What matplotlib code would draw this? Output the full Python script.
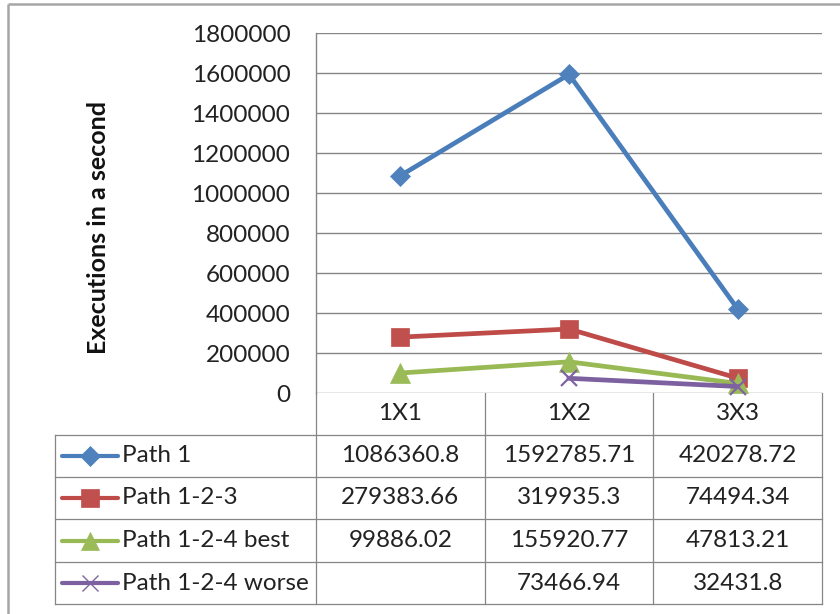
import numpy as np
import matplotlib
matplotlib.use("Agg")
import matplotlib.pyplot as plt
from matplotlib.lines import Line2D

plt.rcParams['font.family'] = ['Lato', 'DejaVu Sans']

# ---- data ----
categories = ["1X1", "1X2", "3X3"]
series_names = ["Path 1", "Path 1-2-3", "Path 1-2-4 best", "Path 1-2-4 worse"]
path1 = [1086360.8, 1592785.71, 420278.72]
path123 = [279383.66, 319935.3, 74494.34]
path124_best = [99886.02, 155920.77, 47813.21]
path124_worse = [None, 73466.94, 32431.8]
y_ticks = [0, 200000, 400000, 600000, 800000, 1000000, 1200000, 1400000, 1600000, 1800000]
y_label = "Executions in a second"

series_values = [path1, path123, path124_best, path124_worse]
line_colors = ["#4A7EBB", "#BE4B48", "#98B954", "#7D60A0"]
marker_colors = ["#4F81BD", "#C0504D", "#9BBB59", "#8064A2"]
markers = ["D", "s", "^", "x"]
marker_sizes = [10.5, 13, 14, 12]

W, H = 840, 614
fig = plt.figure(figsize=(W / 100, H / 100), dpi=100)

# pixel layout (origin top-left)
PL, PR, PT, PB = 316, 822, 33, 393
TAB_L = 55
row_edges = [393, 435, 477, 519, 562, 604]
grid_col = "#868686"
FS = 17.5

def fx(px):
    return px / W

def fy(py):
    return 1 - py / H

ax = fig.add_axes([fx(PL), fy(PB), fx(PR) - fx(PL), fy(PT) - fy(PB)])
ax.set_xlim(-0.5, len(categories) - 0.5)
ax.set_ylim(0, 1800000)
ax.set_yticks(y_ticks)
ax.set_yticklabels([str(t) for t in y_ticks], fontsize=FS, color="#222222")
ax.tick_params(axis='y', length=0, pad=18.5)
ax.set_xticks([])
for s in ["top", "right", "bottom"]:
    ax.spines[s].set_visible(False)
ax.spines["left"].set_color(grid_col)
ax.spines["left"].set_linewidth(1.0)
ax.grid(axis='y', color=grid_col, linewidth=1.0)
ax.set_axisbelow(True)

x = np.arange(len(categories))
for vals, lc, mc, mk, ms in zip(series_values, line_colors, marker_colors, markers, marker_sizes):
    v = np.array([np.nan if a is None else a for a in vals], dtype=float)
    ax.plot(x, v, color=lc, linewidth=3.4, marker=mk, markersize=ms,
            markerfacecolor=mc, markeredgecolor=mc,
            markeredgewidth=1.6 if mk == "x" else 0.5, clip_on=False, zorder=3)

# overlay in pixel coordinates for table and frame
ov = fig.add_axes([0, 0, 1, 1], zorder=-1)
ov.set_xlim(0, W)
ov.set_ylim(H, 0)
ov.axis("off")

# outer chart frame
ov.plot([8, W + 5], [4, 4], color="#A6A6A6", lw=1.8, solid_capstyle="butt")
ov.plot([8, 8], [4, H + 5], color="#A6A6A6", lw=1.8, solid_capstyle="butt")

# data table grid
col_w = (PR - PL) / len(categories)
col_edges = [PL + i * col_w for i in range(len(categories) + 1)]
for cx in col_edges:
    ov.plot([cx, cx], [row_edges[0], row_edges[-1]], color=grid_col, lw=0.9)
ov.plot([TAB_L, TAB_L], [row_edges[1], row_edges[-1]], color=grid_col, lw=0.9)
for ry in row_edges[1:]:
    ov.plot([TAB_L, PR], [ry, ry], color=grid_col, lw=0.9)

centers = [(col_edges[i] + col_edges[i + 1]) / 2 for i in range(len(categories))]
hy = (row_edges[0] + row_edges[1]) / 2
for cx, c in zip(centers, categories):
    ov.text(cx, hy, c, ha="center", va="center", fontsize=FS, color="#222222")

for r, (name, vals, lc, mc, mk, ms) in enumerate(zip(series_names, series_values,
                                                    line_colors, marker_colors,
                                                    markers, marker_sizes)):
    ry = (row_edges[r + 1] + row_edges[r + 2]) / 2
    ov.add_line(Line2D([62, 118], [ry, ry], color=lc, lw=3.0, solid_capstyle="round"))
    ov.add_line(Line2D([90], [ry], marker=mk, markersize=ms * 0.95, color=mc,
                       markerfacecolor=mc, markeredgecolor=mc,
                       markeredgewidth=1.0 if mk == "x" else 0.5, linestyle="none"))
    ov.text(122, ry, name, ha="left", va="center", fontsize=FS, color="#222222")
    for cx, v in zip(centers, vals):
        if v is not None:
            ov.text(cx, ry, str(v), ha="center", va="center", fontsize=FS, color="#222222")

fig.text(fx(98), fy(228), y_label, rotation=90, ha="center", va="center",
         fontsize=18, fontweight="bold", color="#111111")

fig.savefig("out.png", dpi=100)
